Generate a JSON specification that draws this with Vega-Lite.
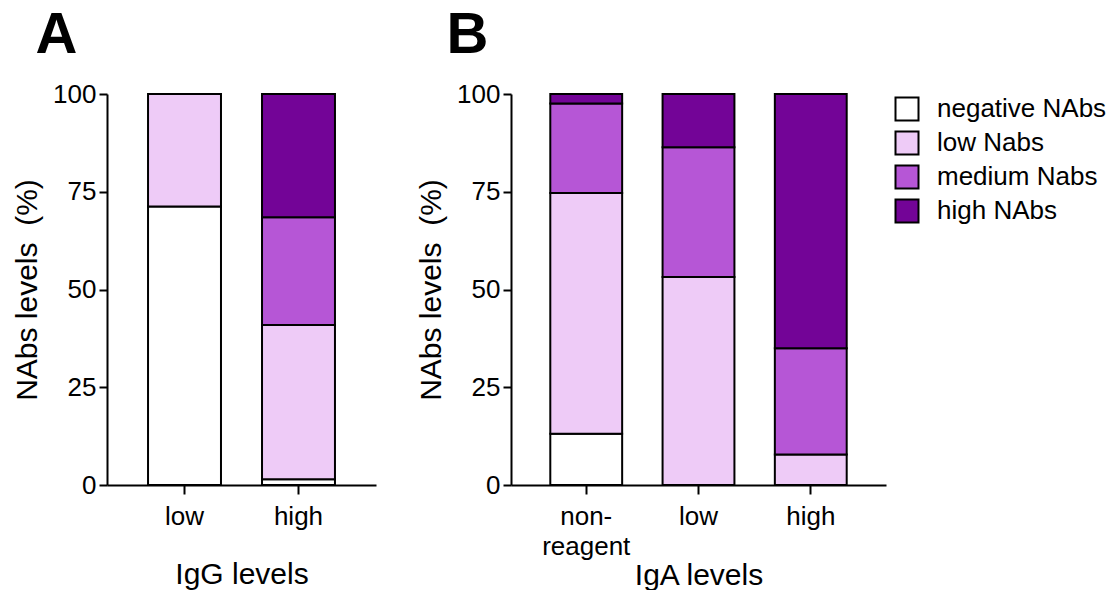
{
  "$schema": "https://vega.github.io/schema/vega-lite/v6.json",
  "padding": {"left": 12, "top": 7, "right": 0, "bottom": 0},
  "background": "white",
  "config": {
    "font": "Liberation Sans",
    "view": {"stroke": null},
    "axis": {
      "domainColor": "black", "domainWidth": 2,
      "tickColor": "black", "tickWidth": 2,
      "labelColor": "black", "titleColor": "black",
      "labelFont": "Liberation Sans", "titleFont": "Liberation Sans",
      "labelFontSize": 26, "titleFontSize": 30, "titleFontWeight": "normal",
      "grid": false
    },
    "legend": {
      "labelFont": "Liberation Sans", "labelFontSize": 26, "labelColor": "black",
      "symbolType": "square", "symbolSize": 529, "symbolStrokeColor": "black",
      "symbolStrokeWidth": 2, "rowPadding": 2, "labelOffset": 17, "padding": 2,
      "offset": 6, "labelLimit": 400
    },
    "title": {"font": "Liberation Sans", "fontSize": 58, "fontWeight": "bold", "color": "black", "anchor": "start"}
  },
  "data": {"values": [
    {"panel": "A", "group": "low", "level": "negative NAbs", "rank": 1, "value": 71.2},
    {"panel": "A", "group": "low", "level": "low Nabs", "rank": 2, "value": 28.8},
    {"panel": "A", "group": "high", "level": "negative NAbs", "rank": 1, "value": 1.5},
    {"panel": "A", "group": "high", "level": "low Nabs", "rank": 2, "value": 39.4},
    {"panel": "A", "group": "high", "level": "medium Nabs", "rank": 3, "value": 27.6},
    {"panel": "A", "group": "high", "level": "high NAbs", "rank": 4, "value": 31.5},
    {"panel": "B", "group": "non-reagent", "level": "negative NAbs", "rank": 1, "value": 13.1},
    {"panel": "B", "group": "non-reagent", "level": "low Nabs", "rank": 2, "value": 61.6},
    {"panel": "B", "group": "non-reagent", "level": "medium Nabs", "rank": 3, "value": 22.9},
    {"panel": "B", "group": "non-reagent", "level": "high NAbs", "rank": 4, "value": 2.4},
    {"panel": "B", "group": "low", "level": "low Nabs", "rank": 2, "value": 53.2},
    {"panel": "B", "group": "low", "level": "medium Nabs", "rank": 3, "value": 33.2},
    {"panel": "B", "group": "low", "level": "high NAbs", "rank": 4, "value": 13.6},
    {"panel": "B", "group": "high", "level": "low Nabs", "rank": 2, "value": 7.8},
    {"panel": "B", "group": "high", "level": "medium Nabs", "rank": 3, "value": 27.2},
    {"panel": "B", "group": "high", "level": "high NAbs", "rank": 4, "value": 65.0}
  ]},
  "spacing": 40,
  "resolve": {"scale": {"color": "independent"}, "legend": {"color": "independent"}},
  "hconcat": [
    {
      "title": {"text": "A", "dx": 23, "offset": 16},
      "width": 269, "height": 391,
      "transform": [{"filter": "datum.panel == 'A'"}],
      "mark": {"type": "bar", "stroke": "black", "strokeWidth": 2},
      "encoding": {
        "x": {"field": "group", "type": "nominal", "sort": ["low", "high"],
              "scale": {"paddingInner": 0.36, "paddingOuter": 0.36},
              "axis": {"labelAngle": 0, "title": "IgG levels", "tickSize": 9, "labelPadding": 9, "titlePadding": 30}},
        "y": {"field": "value", "type": "quantitative", "stack": "zero",
              "scale": {"domain": [0, 100]},
              "axis": {"values": [0, 25, 50, 75, 100], "title": "NAbs levels \u00a0(%)", "tickSize": 8, "labelPadding": 3, "titlePadding": 10}},
        "order": {"field": "rank", "type": "quantitative", "sort": "ascending"},
        "color": {"field": "level", "type": "nominal",
                  "sort": ["negative NAbs", "low Nabs", "medium Nabs", "high NAbs"],
                  "scale": {"domain": ["negative NAbs", "low Nabs", "medium Nabs", "high NAbs"], "range": ["#ffffff", "#eecbf7", "#b656d6", "#730497"]},
                  "legend": null}
      }
    },
    {
      "title": {"text": "B", "dx": 30, "offset": 16},
      "width": 375, "height": 391,
      "transform": [{"filter": "datum.panel == 'B'"}],
      "mark": {"type": "bar", "stroke": "black", "strokeWidth": 2},
      "encoding": {
        "x": {"field": "group", "type": "nominal", "sort": ["non-reagent", "low", "high"],
              "scale": {"paddingInner": 0.36, "paddingOuter": 0.35},
              "axis": {"labelAngle": 0, "title": "IgA levels", "tickSize": 9, "labelPadding": 9, "titlePadding": 1,
                       "labelLineHeight": 30,
                       "labelExpr": "datum.label == 'non-reagent' ? ['non-', 'reagent'] : datum.label"}},
        "y": {"field": "value", "type": "quantitative", "stack": "zero",
              "scale": {"domain": [0, 100]},
              "axis": {"values": [0, 25, 50, 75, 100], "title": "NAbs levels \u00a0(%)", "tickSize": 8, "labelPadding": 3, "titlePadding": 10}},
        "order": {"field": "rank", "type": "quantitative", "sort": "ascending"},
        "color": {"field": "level", "type": "nominal",
                  "sort": ["negative NAbs", "low Nabs", "medium Nabs", "high NAbs"],
                  "scale": {"domain": ["negative NAbs", "low Nabs", "medium Nabs", "high NAbs"], "range": ["#ffffff", "#eecbf7", "#b656d6", "#730497"]},
                  "legend": {"title": null}}
      }
    }
  ]
}
